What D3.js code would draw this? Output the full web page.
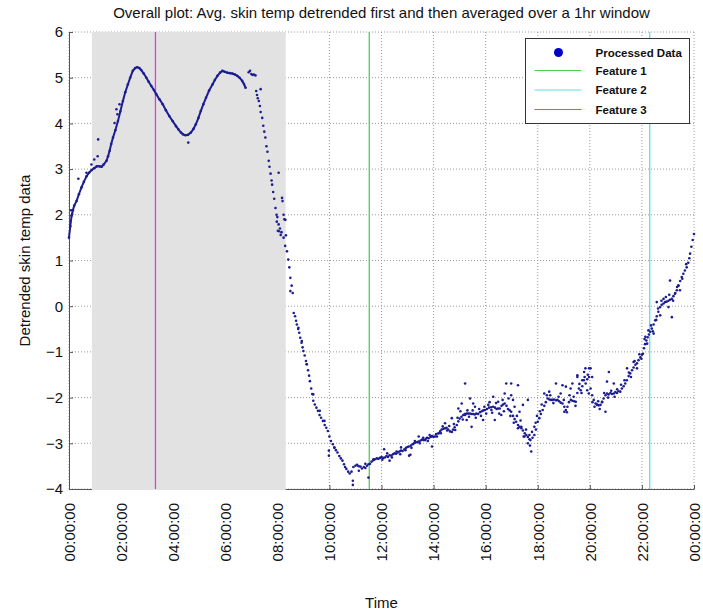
<!DOCTYPE html>
<html>
<head>
<meta charset="utf-8">
<script src="https://cdn.jsdelivr.net/npm/d3@7"></script>
<style>
body { margin: 0; background: #fff; }
text { font-family: "Liberation Sans", Arial, sans-serif; }
</style>
</head>
<body>
<svg width="703" height="613"></svg>
<script>
// tick labels / categories
const hourTicks = [0, 2, 4, 6, 8, 10, 12, 14, 16, 18, 20, 22, 24];
const timeLabels = ["00:00:00", "02:00:00", "04:00:00", "06:00:00", "08:00:00", "10:00:00",
    "12:00:00", "14:00:00", "16:00:00", "18:00:00", "20:00:00", "22:00:00", "00:00:00"];
const tempTicks = [-4, -3, -2, -1, 0, 1, 2, 3, 4, 5, 6];
const legendLabels = ["Processed Data", "Feature 1", "Feature 2", "Feature 3"];

// shaded window and feature markers (hours)
const shadeWindow = [0.88, 8.32];
const featureHours = [11.53, 22.3, 3.32];
const featureColors = ["#4fd04f", "#5fe0e0", "#e03ce0"];

// [hour, value]
const morningCurve = [
    [0.00, 1.50], [0.05, 1.75], [0.10, 1.98], [0.15, 2.10], [0.20, 2.20], [0.29, 2.30], [0.38, 2.45],
    [0.48, 2.60], [0.57, 2.72], [0.67, 2.84], [0.77, 2.92], [0.87, 2.98], [0.97, 3.02], [1.07, 3.06],
    [1.17, 3.06], [1.25, 3.05], [1.33, 3.10], [1.44, 3.18], [1.50, 3.28], [1.56, 3.40], [1.62, 3.55],
    [1.69, 3.69], [1.78, 3.85], [1.88, 4.05], [1.97, 4.26], [2.07, 4.49], [2.16, 4.68], [2.26, 4.85],
    [2.35, 5.00], [2.45, 5.15], [2.54, 5.21], [2.62, 5.23], [2.70, 5.21], [2.77, 5.17], [2.87, 5.09],
    [2.97, 5.00], [3.06, 4.91], [3.16, 4.82], [3.26, 4.73], [3.35, 4.64], [3.47, 4.53], [3.60, 4.42],
    [3.72, 4.29], [3.85, 4.16], [3.98, 4.05], [4.11, 3.94], [4.20, 3.87], [4.30, 3.80], [4.38, 3.76],
    [4.47, 3.74], [4.57, 3.75], [4.68, 3.80], [4.78, 3.88], [4.87, 3.98], [4.97, 4.12], [5.06, 4.27],
    [5.16, 4.42], [5.26, 4.56], [5.38, 4.72], [5.51, 4.85], [5.60, 4.95], [5.70, 5.04], [5.80, 5.11],
    [5.89, 5.15], [5.98, 5.13], [6.08, 5.11], [6.18, 5.10], [6.27, 5.09], [6.37, 5.07], [6.46, 5.04],
    [6.55, 5.00], [6.65, 4.93], [6.72, 4.86], [6.78, 4.78]
];

const lateMorningDots = [
    [6.90, 5.12], [6.95, 5.15], [7.00, 5.08], [7.05, 5.06], [7.10, 5.07], [7.16, 5.05],
    [7.19, 4.71], [7.22, 4.62], [7.25, 4.55], [7.29, 4.49], [7.33, 4.38], [7.36, 4.25], [7.42, 4.12],
    [7.46, 3.95], [7.50, 3.82], [7.54, 3.69], [7.58, 3.50], [7.62, 3.38], [7.67, 3.18], [7.70, 3.05],
    [7.74, 2.90], [7.78, 2.75], [7.80, 2.66], [7.84, 2.50], [7.88, 2.35], [7.93, 2.15], [7.97, 2.00],
    [8.00, 1.95], [8.05, 1.79], [8.10, 1.70], [8.16, 1.62], [8.24, 1.50], [8.30, 1.32], [8.37, 1.20],
    [8.42, 1.02], [8.46, 0.85], [8.50, 0.62], [8.55, 0.45]
];

const dayDots = [
    [8.63, -0.15], [8.68, -0.22], [8.72, -0.32], [8.75, -0.40], [8.80, -0.50], [8.84, -0.58],
    [8.88, -0.69], [8.93, -0.80], [8.97, -0.90], [9.00, -0.98], [9.05, -1.08], [9.10, -1.20],
    [9.13, -1.27], [9.18, -1.40], [9.22, -1.52], [9.25, -1.64], [9.30, -1.80], [9.34, -1.92],
    [9.38, -2.07], [9.44, -2.15], [9.50, -2.22], [9.56, -2.29], [9.62, -2.38], [9.68, -2.44],
    [9.75, -2.51], [9.82, -2.60], [9.88, -2.66], [9.94, -2.73], [10.00, -2.85], [10.06, -2.95],
    [10.13, -3.02], [10.19, -3.10], [10.25, -3.15], [10.31, -3.20], [10.38, -3.28], [10.44, -3.33],
    [10.50, -3.38], [10.56, -3.46], [10.60, -3.52], [10.65, -3.56], [10.72, -3.62], [10.78, -3.66],
    [10.85, -3.62], [10.92, -3.52], [11.00, -3.49], [11.06, -3.47], [11.12, -3.50], [11.19, -3.51],
    [11.25, -3.55], [11.32, -3.52], [11.38, -3.54], [11.44, -3.49], [11.50, -3.46], [11.56, -3.45],
    [11.62, -3.40], [11.69, -3.37], [11.75, -3.35], [11.82, -3.33], [11.88, -3.34], [11.94, -3.32],
    [12.00, -3.30], [12.06, -3.32], [12.13, -3.31], [12.19, -3.28], [12.25, -3.30], [12.31, -3.26],
    [12.38, -3.27], [12.44, -3.24], [12.50, -3.22], [12.56, -3.23], [12.63, -3.20], [12.69, -3.18],
    [12.75, -3.16], [12.81, -3.17], [12.88, -3.13], [12.94, -3.10], [13.00, -3.08], [13.05, -3.07],
    [13.13, -3.05], [13.20, -3.02], [13.25, -3.00], [13.31, -2.98], [13.38, -2.97], [13.43, -2.96],
    [13.50, -2.94], [13.56, -2.92], [13.62, -2.93], [13.70, -2.90], [13.75, -2.88], [13.81, -2.89],
    [13.88, -2.86], [13.94, -2.84], [14.00, -2.86], [14.06, -2.85], [14.13, -2.85], [14.20, -2.78],
    [14.25, -2.74], [14.31, -2.70], [14.38, -2.68], [14.44, -2.67], [14.50, -2.66], [14.56, -2.70],
    [14.63, -2.74], [14.70, -2.75], [14.75, -2.70], [14.81, -2.65], [14.89, -2.60], [14.95, -2.52],
    [15.00, -2.46], [15.07, -2.42], [15.14, -2.38], [15.20, -2.36], [15.27, -2.35], [15.33, -2.35],
    [15.40, -2.35], [15.46, -2.36], [15.52, -2.36], [15.58, -2.37], [15.64, -2.35], [15.71, -2.36],
    [15.78, -2.32], [15.85, -2.30], [15.91, -2.28], [15.97, -2.27], [16.05, -2.25], [16.13, -2.22],
    [16.21, -2.21], [16.29, -2.20], [16.36, -2.22], [16.42, -2.25], [16.48, -2.24], [16.54, -2.24],
    [16.61, -2.18], [16.67, -2.15], [16.73, -2.13], [16.80, -2.18], [16.86, -2.25], [16.92, -2.28],
    [16.98, -2.31], [17.05, -2.40], [17.11, -2.47], [17.17, -2.53], [17.24, -2.60], [17.30, -2.64],
    [17.37, -2.67], [17.43, -2.72], [17.50, -2.78], [17.56, -2.82], [17.62, -2.86], [17.68, -2.91],
    [17.72, -2.93], [17.80, -2.88], [17.87, -2.82], [17.93, -2.70], [18.00, -2.53], [18.06, -2.45],
    [18.12, -2.36], [18.19, -2.27], [18.25, -2.18], [18.31, -2.10], [18.38, -2.02], [18.45, -2.04],
    [18.51, -2.05], [18.57, -2.05], [18.63, -2.04], [18.70, -2.06], [18.76, -2.05], [18.82, -2.08],
    [18.88, -2.11], [18.95, -2.13], [19.02, -2.20], [19.08, -2.27], [19.14, -2.20], [19.20, -2.10],
    [19.27, -2.05], [19.33, -2.07], [19.40, -2.08], [19.46, -2.09], [19.52, -1.90], [19.58, -1.80],
    [19.65, -1.84], [19.71, -1.75], [19.77, -1.62], [19.84, -1.69], [19.90, -1.60], [19.97, -1.55],
    [20.03, -1.80], [20.09, -1.95], [20.15, -2.05], [20.22, -2.13], [20.28, -2.15], [20.34, -2.17],
    [20.41, -2.16], [20.47, -2.10], [20.53, -2.02], [20.60, -1.95], [20.66, -1.91], [20.72, -1.93],
    [20.79, -1.90], [20.85, -1.92], [20.92, -1.91], [20.98, -1.88], [21.04, -1.90], [21.10, -1.86],
    [21.17, -1.87], [21.23, -1.80], [21.30, -1.75], [21.36, -1.69], [21.42, -1.62], [21.49, -1.53],
    [21.55, -1.47], [21.62, -1.40], [21.68, -1.34], [21.75, -1.28], [21.81, -1.25], [21.87, -1.18],
    [21.94, -1.12], [22.00, -1.06], [22.04, -1.04], [22.08, -0.92], [22.12, -0.83], [22.17, -0.75],
    [22.22, -0.68], [22.27, -0.62], [22.32, -0.56], [22.38, -0.49], [22.45, -0.40], [22.51, -0.31],
    [22.57, -0.22], [22.63, -0.12], [22.70, -0.02], [22.76, 0.03], [22.83, 0.06], [22.89, 0.09],
    [22.95, 0.10], [23.02, 0.12], [23.08, 0.14], [23.15, 0.16], [23.21, 0.22], [23.28, 0.29],
    [23.34, 0.35], [23.40, 0.45], [23.47, 0.55], [23.53, 0.64], [23.59, 0.71], [23.65, 0.78],
    [23.72, 0.85], [23.78, 0.95], [23.85, 1.15], [23.90, 1.30], [23.95, 1.45], [24.00, 1.58]
];

const strayDots = [
    [0.08, 2.10], [0.12, 2.02], [0.36, 2.79], [0.67, 2.92], [0.86, 3.10], [0.97, 3.21], [1.10, 3.28],
    [1.12, 3.65], [1.75, 4.01], [1.82, 4.31], [1.94, 4.42], [1.86, 4.20], [4.58, 3.58], [7.36, 4.75],
    [8.05, 2.92], [8.18, 2.37], [8.20, 2.30], [7.98, 1.85], [8.02, 1.65], [8.24, 2.00], [8.27, 1.90],
    [8.06, 1.64], [8.13, 1.56], [8.31, 1.89], [8.33, 1.55], [8.50, 0.33], [8.59, 0.29],
    [8.81, -0.47], [8.94, -0.76], [9.13, -1.27], [9.38, -1.93], [9.63, -2.29], [9.81, -2.51],
    [9.98, -3.16], [9.98, -3.27], [10.19, -3.09], [10.90, -3.82], [10.90, -3.91], [11.13, -3.60],
    [11.38, -3.45], [11.50, -3.75], [11.69, -3.35], [12.10, -3.13], [12.31, -3.38], [12.75, -3.09],
    [13.06, -3.27], [13.11, -3.25], [13.43, -2.85], [13.68, -2.93], [13.94, -2.85], [13.94, -3.07],
    [14.19, -2.78], [14.44, -2.56], [14.70, -2.45], [14.83, -2.71], [14.95, -2.24], [15.08, -2.13],
    [15.21, -1.69], [15.21, -2.38], [15.27, -2.49], [15.40, -2.02], [15.46, -2.64], [15.52, -2.13],
    [15.59, -2.20], [15.90, -2.49], [16.10, -2.16], [16.22, -2.27], [16.29, -1.98], [16.35, -2.49],
    [16.48, -2.09], [16.60, -2.38], [16.73, -1.91], [16.79, -1.69], [16.98, -1.69], [16.98, -1.95],
    [17.05, -2.05], [17.11, -2.20], [17.24, -1.73], [17.24, -2.67], [17.30, -2.31], [17.37, -2.64],
    [17.43, -2.16], [17.49, -2.85], [17.62, -3.00], [17.62, -2.05], [17.68, -2.82], [17.75, -3.18],
    [17.87, -2.64], [18.25, -1.91], [18.44, -1.87], [18.70, -1.69], [18.88, -1.91], [18.95, -1.73],
    [19.02, -2.31], [19.08, -1.76], [19.26, -1.80], [19.33, -1.69], [19.52, -1.55], [19.52, -1.51],
    [19.71, -1.62], [19.78, -1.44], [19.83, -1.36], [19.90, -1.84], [19.96, -1.91], [19.97, -1.36],
    [20.03, -1.36], [20.09, -1.55], [20.28, -2.16], [20.47, -2.09], [20.60, -2.31], [20.66, -1.65],
    [20.73, -1.44], [20.92, -1.69], [21.43, -1.36], [21.68, -1.22], [21.81, -1.36], [22.13, -0.67],
    [22.25, -0.53], [22.45, -0.60], [22.57, 0.09], [22.70, -0.20], [22.83, 0.16], [23.02, -0.02],
    [23.08, 0.56], [23.15, -0.24], [23.27, 0.27], [23.40, 0.45], [23.46, 0.35]
];

// the wider band of the afternoon and evening readings
const bandDots = [
    [12.03, -3.36], [12.22, -3.22], [12.40, -3.31], [12.58, -3.18], [12.72, -3.24], [12.92, -3.15],
    [13.15, -3.10], [13.28, -2.95], [13.47, -3.00], [13.60, -2.88], [13.78, -2.95], [13.85, -2.82],
    [14.10, -2.80], [14.28, -2.78], [14.35, -2.63], [14.52, -2.72], [14.60, -2.62], [14.78, -2.58],
    [14.92, -2.44], [15.03, -2.30], [15.12, -2.48], [15.30, -2.28], [15.36, -2.42], [15.50, -2.28],
    [15.62, -2.44], [15.75, -2.25], [15.82, -2.40], [15.95, -2.20], [16.02, -2.35], [16.15, -2.10],
    [16.25, -2.33], [16.40, -2.12], [16.52, -2.35], [16.65, -2.05], [16.70, -2.30], [16.88, -2.02],
    [16.95, -2.40], [17.08, -2.55], [17.20, -2.40], [17.34, -2.50], [17.46, -2.85], [17.55, -2.70],
    [17.70, -3.05], [17.78, -2.75], [17.92, -2.55], [17.97, -2.40], [18.08, -2.30], [18.15, -2.15],
    [18.35, -1.95], [18.48, -1.95], [18.60, -2.12], [18.80, -1.98], [19.00, -2.05], [19.12, -2.32],
    [19.22, -1.95], [19.38, -1.98], [19.45, -2.18], [19.60, -1.70], [19.68, -1.90], [19.80, -1.55],
    [19.92, -1.50], [20.10, -2.10], [20.18, -2.20], [20.32, -2.08], [20.38, -2.25], [20.55, -1.90],
    [20.70, -2.00], [20.82, -1.85], [20.95, -1.98], [21.05, -1.82], [21.20, -1.72], [21.33, -1.62],
    [21.50, -1.45], [21.58, -1.55], [21.72, -1.20], [21.90, -1.05], [21.98, -1.15], [22.10, -0.72],
    [22.20, -0.82], [22.35, -0.42], [22.42, -0.55], [22.55, -0.30], [22.62, -0.05], [22.75, 0.12],
    [22.92, 0.20], [23.05, 0.25], [23.20, 0.12], [23.35, 0.42], [23.55, 0.60], [23.70, 0.92],
    [23.82, 1.05]
];

const margin = { top: 32, right: 9, bottom: 124, left: 69 };
const width = 703 - margin.left - margin.right;
const height = 613 - margin.top - margin.bottom;

const svg = d3.select('svg');
const chart = svg.append('g')
    .attr('transform', `translate(${margin.left}, ${margin.top})`);

const xScale = d3.scaleLinear().domain([0, 24]).range([0, width]);
const yScale = d3.scaleLinear().domain([-4, 6]).range([height, 0]);

// dotted grid
chart.selectAll('.vgrid')
    .data(hourTicks)
    .enter().append('line')
    .attr('x1', d => xScale(d)).attr('x2', d => xScale(d))
    .attr('y1', 0).attr('y2', height)
    .attr('stroke', '#9a9a9a').attr('stroke-dasharray', '1,2');

chart.selectAll('.hgrid')
    .data(tempTicks)
    .enter().append('line')
    .attr('x1', 0).attr('x2', width)
    .attr('y1', d => yScale(d)).attr('y2', d => yScale(d))
    .attr('stroke', '#9a9a9a').attr('stroke-dasharray', '1,2');

// axes
const yAxis = chart.append('g')
    .call(d3.axisLeft(yScale).tickValues(tempTicks).tickSize(-4).tickSizeOuter(0).tickPadding(6));
const xAxis = chart.append('g')
    .attr('transform', `translate(0, ${height})`)
    .call(d3.axisBottom(xScale).tickValues(hourTicks).tickFormat((d, i) => timeLabels[i])
        .tickSize(-4).tickSizeOuter(0));

[yAxis, xAxis].forEach(a => {
    a.select('.domain').attr('stroke', '#555');
    a.selectAll('line').attr('stroke', '#555');
    a.selectAll('text').attr('font-size', 15).attr('fill', '#111')
        .attr('font-family', '"Liberation Sans", Arial, sans-serif');
});

xAxis.selectAll('text')
    .attr('transform', 'rotate(-90)')
    .attr('x', -14).attr('y', 0).attr('dy', '0.35em')
    .attr('text-anchor', 'end');

// grey window
chart.append('rect')
    .attr('x', xScale(shadeWindow[0]))
    .attr('y', 0)
    .attr('width', xScale(shadeWindow[1]) - xScale(shadeWindow[0]))
    .attr('height', height + 1)
    .attr('fill', '#e2e2e2');

// feature lines
chart.selectAll('.feature')
    .data(featureHours)
    .enter().append('line')
    .attr('x1', d => xScale(d)).attr('x2', d => xScale(d))
    .attr('y1', 0).attr('y2', height)
    .attr('stroke', (d, i) => featureColors[i])
    .attr('stroke-width', 1.3);

// data
const dotColor = '#1d1d92';
chart.append('path')
    .datum(morningCurve)
    .attr('fill', 'none')
    .attr('stroke', dotColor)
    .attr('stroke-width', 2)
    .attr('d', d3.line().x(d => xScale(d[0])).y(d => yScale(d[1])));

chart.selectAll('.dot')
    .data(morningCurve.concat(lateMorningDots, dayDots, strayDots, bandDots))
    .enter().append('circle')
    .attr('cx', d => xScale(d[0]))
    .attr('cy', d => yScale(d[1]))
    .attr('r', 1.3)
    .attr('fill', dotColor);

// legend
const legend = svg.append('g').attr('transform', 'translate(525.5, 38.5)');
legend.append('rect')
    .attr('width', 164).attr('height', 85)
    .attr('fill', '#fff').attr('stroke', '#333');
legend.append('circle')
    .attr('cx', 33).attr('cy', 14).attr('r', 4.5).attr('fill', '#0000c8');
legend.selectAll('.lline')
    .data(featureColors)
    .enter().append('line')
    .attr('x1', 9).attr('x2', 56)
    .attr('y1', (d, i) => 32 + i * 19.5).attr('y2', (d, i) => 32 + i * 19.5)
    .attr('stroke', d => d);
legend.selectAll('.ltext')
    .data(legendLabels)
    .enter().append('text')
    .attr('x', 70)
    .attr('y', (d, i) => i === 0 ? 14 : 32 + (i - 1) * 19.5)
    .attr('dy', '0.35em')
    .attr('font-family', '"DejaVu Sans", Verdana, sans-serif')
    .attr('font-weight', 'bold')
    .attr('font-size', 11.5)
    .attr('fill', '#111')
    .text(d => d);

// titles
svg.append('text')
    .attr('x', margin.left + width / 2).attr('y', 18)
    .attr('text-anchor', 'middle').attr('font-size', 15).attr('fill', '#111')
    .text('Overall plot: Avg. skin temp detrended first and then averaged over a 1hr window');

svg.append('text')
    .attr('x', margin.left + width / 2).attr('y', 608)
    .attr('text-anchor', 'middle').attr('font-size', 15).attr('fill', '#111')
    .text('Time');

svg.append('text')
    .attr('transform', `translate(25, ${margin.top + height / 2}) rotate(-90)`)
    .attr('dy', '0.35em')
    .attr('text-anchor', 'middle').attr('font-size', 15).attr('fill', '#111')
    .text('Detrended skin temp data');
</script>
</body>
</html>
